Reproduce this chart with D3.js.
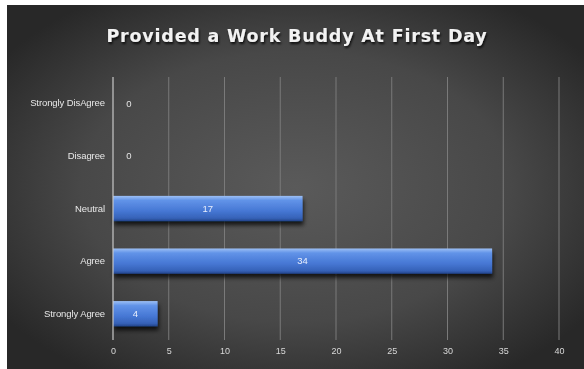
<!DOCTYPE html>
<html>
<head>
<meta charset="utf-8">
<script src="https://cdn.jsdelivr.net/npm/d3@7"></script>
<style>
  html, body { margin: 0; padding: 0; background: #ffffff; }
  svg { display: block; }
</style>
</head>
<body>
<svg id="chart" width="584" height="369"></svg>
<script>
// Survey responses
const categories = ["Strongly DisAgree", "Disagree", "Neutral", "Agree", "Strongly Agree"];
const counts = [0, 0, 17, 34, 4];
const xTicks = [0, 5, 10, 15, 20, 25, 30, 35, 40];
const title = "Provided a Work Buddy At First Day";

const svg = d3.select("#chart");
const W = 584, H = 369;
const defs = svg.append("defs");

// Dark radial backdrop
const bg = defs.append("radialGradient").attr("id", "bgGrad")
  .attr("cx", "50%").attr("cy", "50%").attr("r", "62%");
bg.append("stop").attr("offset", "0%").attr("stop-color", "#5a5a5a");
bg.append("stop").attr("offset", "60%").attr("stop-color", "#484848");
bg.append("stop").attr("offset", "100%").attr("stop-color", "#282828");

// Bevelled bar fill
const barGrad = defs.append("linearGradient").attr("id", "barGrad")
  .attr("x1", 0).attr("y1", 0).attr("x2", 0).attr("y2", 1);
barGrad.append("stop").attr("offset", "0%").attr("stop-color", "#9dc0f5");
barGrad.append("stop").attr("offset", "18%").attr("stop-color", "#6193e8");
barGrad.append("stop").attr("offset", "60%").attr("stop-color", "#4677d4");
barGrad.append("stop").attr("offset", "88%").attr("stop-color", "#3662b8");
barGrad.append("stop").attr("offset", "100%").attr("stop-color", "#23448a");

const shadow = defs.append("filter").attr("id", "barShadow")
  .attr("x", "-5%").attr("y", "-20%").attr("width", "115%").attr("height", "170%");
shadow.append("feGaussianBlur").attr("in", "SourceAlpha").attr("stdDeviation", 2.2).attr("result", "b");
shadow.append("feOffset").attr("in", "b").attr("dx", 1).attr("dy", 4).attr("result", "o");
shadow.append("feComponentTransfer").attr("in", "o").attr("result", "s")
  .append("feFuncA").attr("type", "linear").attr("slope", 0.75);
const merge = shadow.append("feMerge");
merge.append("feMergeNode").attr("in", "s");
merge.append("feMergeNode").attr("in", "SourceGraphic");

const titleShadow = defs.append("filter").attr("id", "txtShadow")
  .attr("x", "-5%").attr("y", "-30%").attr("width", "110%").attr("height", "170%");
titleShadow.append("feDropShadow").attr("dx", 1).attr("dy", 2)
  .attr("stdDeviation", 1.2).attr("flood-color", "#000").attr("flood-opacity", 0.8);

const soft = defs.append("filter").attr("id", "soft");
soft.append("feGaussianBlur").attr("stdDeviation", 0.35);

svg.append("rect").attr("x", 7).attr("y", 5).attr("width", W - 7).attr("height", H - 5)
  .attr("fill", "url(#bgGrad)");

const margin = { left: 113, right: 25, top: 77, bottom: 29 };
const x = d3.scaleLinear().domain([0, 40]).range([margin.left, W - margin.right]);
const y = d3.scaleBand().domain(categories).range([margin.top, H - margin.bottom])
  .paddingInner(0.52).paddingOuter(0.26);

const g = svg.append("g").attr("filter", "url(#soft)");

// Vertical gridlines
g.append("g").selectAll("line").data(xTicks.filter(d => d > 0)).join("line")
  .attr("x1", d => x(d)).attr("x2", d => x(d))
  .attr("y1", margin.top).attr("y2", H - margin.bottom)
  .attr("stroke", "#7a7a7a").attr("stroke-width", 1);

// Bars
g.append("g").selectAll("rect").data(categories).join("rect")
  .attr("x", x(0))
  .attr("y", d => y(d))
  .attr("width", (d, i) => x(counts[i]) - x(0))
  .attr("height", y.bandwidth())
  .attr("fill", "url(#barGrad)")
  .attr("filter", "url(#barShadow)");

// Category axis line
g.append("line").attr("x1", x(0)).attr("x2", x(0))
  .attr("y1", margin.top).attr("y2", H - margin.bottom)
  .attr("stroke", "#c8c8c8").attr("stroke-width", 1.2);

// Bottom axis tick labels
const xAxis = d3.axisBottom(x).tickValues(xTicks).tickSize(0).tickPadding(8);
const xa = g.append("g").attr("transform", `translate(0,${H - margin.bottom})`).call(xAxis);
xa.select(".domain").remove();
xa.selectAll("text").attr("fill", "#d8d8d8").attr("font-size", 9)
  .attr("font-family", "Liberation Sans, Arial, sans-serif");

// Left category labels
const yAxis = d3.axisLeft(y).tickSize(0).tickPadding(8);
const ya = g.append("g").attr("transform", `translate(${x(0)},0)`).call(yAxis);
ya.select(".domain").remove();
ya.selectAll("text").attr("fill", "#e8e8e8").attr("font-size", 9.5)
  .attr("letter-spacing", -0.1)
  .attr("font-family", "Liberation Sans, Arial, sans-serif");

// Value labels
g.append("g").selectAll("text").data(categories).join("text")
  .attr("x", (d, i) => counts[i] === 0 ? x(0) + 16 : (x(0) + x(counts[i])) / 2)
  .attr("y", d => y(d) + y.bandwidth() / 2)
  .attr("dy", "0.35em")
  .attr("text-anchor", "middle")
  .attr("fill", (d, i) => counts[i] === 0 ? "#e4e4e4" : "#e8eefc")
  .attr("font-size", 9.5)
  .attr("font-family", "Liberation Sans, Arial, sans-serif")
  .text((d, i) => counts[i]);

// Title
svg.append("text")
  .attr("x", 297).attr("y", 42)
  .attr("text-anchor", "middle")
  .attr("fill", "#f2f2f2")
  .attr("font-size", 17.5)
  .attr("font-weight", "bold")
  .attr("letter-spacing", 0.8)
  .attr("font-family", "DejaVu Sans, sans-serif")
  .attr("filter", "url(#txtShadow)")
  .text(title);
</script>
</body>
</html>
